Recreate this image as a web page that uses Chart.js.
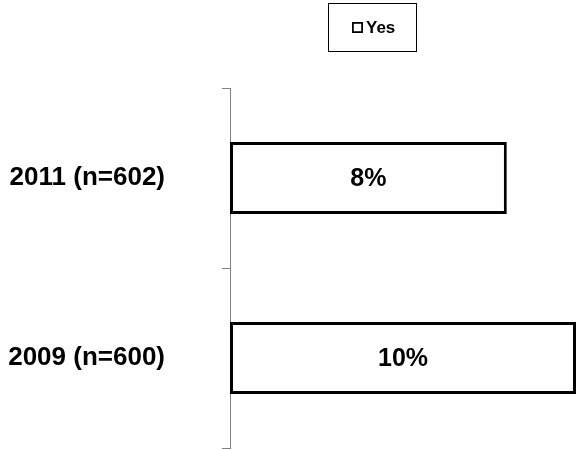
<!DOCTYPE html>
<html>
<head>
<meta charset="utf-8">
<script src="https://cdn.jsdelivr.net/npm/chart.js@4/dist/chart.umd.min.js"></script>
<style>
  html, body { margin: 0; padding: 0; background: #fff; }
  #wrap { width: 577px; height: 450px; }
</style>
</head>
<body>
<div id="wrap"><canvas id="c" width="577" height="450"></canvas></div>
<script>
// Survey years with sample sizes
const categories = ['2011 (n=602)', '2009 (n=600)'];
// Share answering "Yes", in percent
const yesValues = [8, 10];
const seriesName = 'Yes';

const FONT = '"Liberation Sans", Arial, sans-serif';

// Boxed legend above the plot
const boxedLegend = {
  id: 'boxedLegend',
  afterDraw(chart) {
    const ctx = chart.ctx;
    ctx.save();
    ctx.strokeStyle = '#000';
    ctx.lineWidth = 1;
    ctx.strokeRect(328.5, 3.5, 88, 48);
    ctx.lineWidth = 1.8;
    ctx.strokeRect(352.9, 22.9, 9.2, 9.2);
    ctx.fillStyle = '#000';
    ctx.font = 'bold 17px ' + FONT;
    ctx.textBaseline = 'middle';
    ctx.textAlign = 'left';
    ctx.fillText(chart.data.datasets[0].label, 366, 28);
    ctx.restore();
  }
};

// Value labels centred in each bar
const valueLabels = {
  id: 'valueLabels',
  afterDatasetsDraw(chart) {
    const ctx = chart.ctx;
    const meta = chart.getDatasetMeta(0);
    ctx.save();
    ctx.fillStyle = '#000';
    ctx.font = 'bold 25px ' + FONT;
    ctx.textAlign = 'center';
    ctx.textBaseline = 'middle';
    meta.data.forEach((bar, i) => {
      const v = chart.data.datasets[0].data[i];
      const p = bar.getProps(['x', 'y', 'base'], true);
      ctx.fillText(v + '%', (p.x + p.base) / 2, p.y + 1);
    });
    ctx.restore();
  }
};

new Chart(document.getElementById('c'), {
  type: 'bar',
  data: {
    labels: categories,
    datasets: [{
      label: seriesName,
      data: yesValues,
      backgroundColor: '#fff',
      borderColor: '#000',
      borderWidth: 3,
      borderSkipped: false,
      barPercentage: 0.4,
      categoryPercentage: 1
    }]
  },
  options: {
    indexAxis: 'y',
    responsive: false,
    animation: false,
    layout: { padding: { top: 88, bottom: 2, right: 1, left: 0 } },
    plugins: {
      legend: { display: false },
      tooltip: { enabled: false }
    },
    scales: {
      x: { display: false, min: 0, max: 10 },
      y: {
        afterFit(s) {
          s.width = 230;
          s.paddingTop = 0;
          s.paddingBottom = 0;
        },
        grid: {
          offset: true,
          drawOnChartArea: false,
          tickLength: 8,
          color: '#808080',
          lineWidth: 1
        },
        border: { color: '#808080', width: 1 },
        ticks: {
          padding: 57,
          color: '#000',
          font: { family: FONT, size: 26, weight: 'bold' }
        }
      }
    }
  },
  plugins: [boxedLegend, valueLabels]
});
</script>
</body>
</html>
